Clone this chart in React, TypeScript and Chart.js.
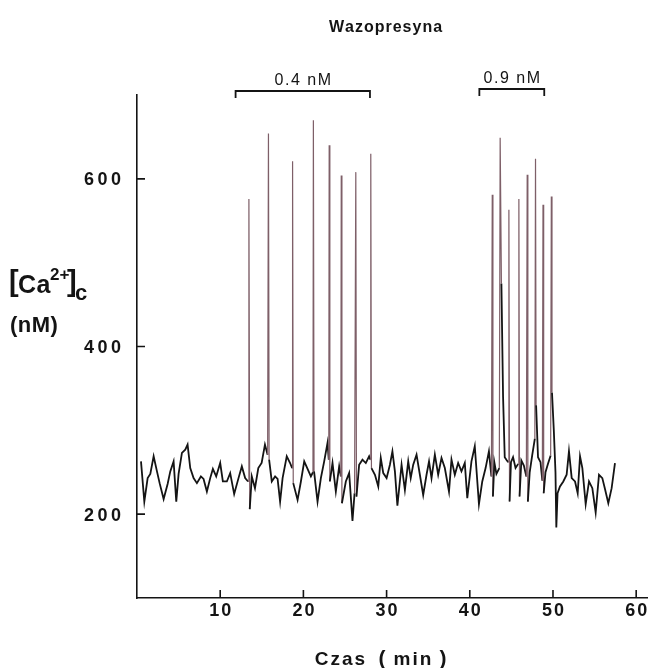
import React, { useEffect, useRef } from 'react';
import { Chart, registerables } from 'chart.js';

Chart.register(...registerables);

const chartTitle = 'Wazopresyna';
const xAxisTitle = ['Czas', '(', 'min', ')'];
const xTickValues = [10, 20, 30, 40, 50, 60];
const yTickValues = [200, 400, 600];
const doseLabels = ['0.4 nM', '0.9 nM'];
const doseStart = [11.85, 41.15];
const doseEnd = [28.0, 48.95];

// time (min)
const traceTime = [
  0.48, 0.88, 1.28, 1.6, 2.0, 2.4, 2.72, 3.2, 3.68, 4.0,
  4.4, 4.72, 5.0, 5.4, 5.8, 6.08, 6.4, 6.8, 7.2, 7.68,
  8.0, 8.4, 8.8, 9.12, 9.52, 10.0, 10.32, 10.8, 11.2, 11.68,
  12.2, 12.6, 13.0, 13.35, 13.45, 13.55, 13.8, 14.18, 14.58, 14.98,
  15.38, 15.7, 15.8, 15.88, 16.2, 16.6, 16.9, 17.2, 17.5, 18.0,
  18.4, 18.65, 18.7, 18.78, 19.3, 19.7, 20.1, 20.5, 20.9, 21.15,
  21.2, 21.28, 21.7, 22.1, 22.5, 22.9, 23.05, 23.1, 23.18, 23.5,
  23.9, 24.3, 24.5, 24.55, 24.63, 25.1, 25.5, 25.9, 26.15, 26.3,
  26.38, 26.7, 27.1, 27.5, 27.9, 28.05, 28.1, 28.18, 28.6, 29.0,
  29.3, 29.6, 30.0, 30.4, 30.7, 31.0, 31.3, 31.8, 32.2, 32.6,
  32.9, 33.2, 33.6, 34.0, 34.4, 34.8, 35.1, 35.4, 35.8, 36.2,
  36.6, 37.0, 37.5, 37.8, 38.2, 38.6, 39.0, 39.4, 39.7, 40.2,
  40.6, 41.1, 41.5, 41.9, 42.3, 42.6, 42.7, 42.78, 42.95, 43.2,
  43.55, 43.65, 43.8, 44.0, 44.2, 44.4, 44.62, 44.7, 44.78, 44.95,
  45.2, 45.5, 45.82, 45.9, 45.98, 46.2, 46.5, 46.8, 46.9, 46.98,
  47.2, 47.5, 47.82, 47.9, 47.97, 48.2, 48.5, 48.72, 48.8, 48.88,
  49.1, 49.4, 49.72, 49.8, 49.88, 50.1, 50.3, 50.4, 50.55, 50.84,
  51.24, 51.64, 51.92, 52.25, 52.65, 52.97, 53.25, 53.53, 53.93, 54.33,
  54.73, 55.13, 55.53, 55.93, 56.25, 56.65, 57.05, 57.45,
];

// [Ca2+]c (nM)
const traceCa = [
  263, 215, 243, 248, 269, 251, 237, 218, 236, 251,
  263, 215, 248, 273, 277, 283, 255, 243, 237, 245,
  242, 227, 243, 254, 245, 261, 239, 239, 249, 224,
  243, 257, 243, 239, 576, 206, 245, 231, 255, 261,
  283, 271, 654, 265, 239, 245, 242, 215, 243, 269,
  261, 255, 621, 237, 217, 239, 263, 254, 245, 250,
  670, 251, 215, 243, 263, 285, 265, 640, 239, 261,
  227, 257, 245, 604, 213, 239, 249, 192, 225, 608,
  221, 259, 265, 261, 269, 265, 630, 255, 247, 233,
  267, 249, 243, 259, 275, 251, 210, 259, 229, 263,
  243, 259, 271, 247, 223, 247, 263, 243, 271, 247,
  267, 255, 227, 265, 247, 261, 251, 261, 219, 263,
  281, 212, 239, 255, 275, 245, 581, 221, 262, 248,
  255, 649, 475, 340, 268, 265, 262, 563, 215, 262,
  268, 255, 260, 576, 221, 264, 258, 245, 605, 215,
  250, 270, 290, 624, 330, 268, 262, 240, 569, 225,
  250, 260, 270, 579, 345, 300, 250, 184, 225, 233,
  239, 247, 275, 243, 239, 225, 269, 255, 212, 239,
  231, 202, 247, 243, 230, 213, 231, 261,
];

const INK = '#141414';
const SPIKE = '#7e5f68';
const FONT = '"Liberation Sans", Arial, Helvetica, sans-serif';

function drawSpaced(
  ctx: CanvasRenderingContext2D,
  text: string,
  x: number,
  y: number,
  align: 'left' | 'center' | 'right',
  spacing: number
) {
  const chars = Array.from(text);
  const widths = chars.map((c) => ctx.measureText(c).width);
  const total = widths.reduce((a, b) => a + b, 0) + spacing * (chars.length - 1);
  let cx = align === 'left' ? x : align === 'center' ? x - total / 2 : x - total;
  ctx.textAlign = 'left';
  chars.forEach((c, i) => {
    ctx.fillText(c, cx, y);
    cx += widths[i] + spacing;
  });
}

const overlayPlugin = {
  id: 'overlay',
  afterDraw(chart: any) {
    const ctx: CanvasRenderingContext2D = chart.ctx;
    const xs = chart.scales.x;
    const ys = chart.scales.y;
    const area = chart.chartArea;
    ctx.save();
    ctx.fillStyle = INK;
    ctx.strokeStyle = INK;
    ctx.lineWidth = 1.6;
    ctx.textBaseline = 'alphabetic';

    // inward tick marks
    ctx.beginPath();
    yTickValues.forEach((v) => {
      const py = ys.getPixelForValue(v);
      ctx.moveTo(area.left, py);
      ctx.lineTo(area.left + 8, py);
    });
    xTickValues.forEach((v) => {
      const px = xs.getPixelForValue(v);
      ctx.moveTo(px, area.bottom);
      ctx.lineTo(px, area.bottom - 8);
    });
    ctx.stroke();

    // tick labels
    ctx.font = `bold 18px ${FONT}`;
    yTickValues.forEach((v) => {
      const py = ys.getPixelForValue(v);
      drawSpaced(ctx, String(v), area.left - 16, py + 6.5, 'right', 3.5);
    });
    xTickValues.forEach((v) => {
      const px = xs.getPixelForValue(v);
      drawSpaced(ctx, String(v), px, 616, 'center', 2);
    });

    // title
    ctx.font = `bold 16px ${FONT}`;
    drawSpaced(ctx, chartTitle, 385.5, 32, 'center', 1);

    // dose brackets
    const bracketY = [91, 89];
    const labelY = [85, 83];
    doseLabels.forEach((lab, i) => {
      const x0 = xs.getPixelForValue(doseStart[i]);
      const x1 = xs.getPixelForValue(doseEnd[i]);
      const by = bracketY[i];
      ctx.lineWidth = 1.8;
      ctx.beginPath();
      ctx.moveTo(x0, by + 7);
      ctx.lineTo(x0, by);
      ctx.lineTo(x1, by);
      ctx.lineTo(x1, by + 7);
      ctx.stroke();
      ctx.font = `16px ${FONT}`;
      drawSpaced(ctx, lab, (x0 + x1) / 2, labelY[i], 'center', 1.5);
    });

    // x axis title
    ctx.font = `bold 19px ${FONT}`;
    drawSpaced(ctx, xAxisTitle[0], 340, 665, 'center', 2);
    ctx.font = `bold 21px ${FONT}`;
    drawSpaced(ctx, xAxisTitle[1], 382, 665, 'center', 0);
    ctx.font = `bold 19px ${FONT}`;
    drawSpaced(ctx, xAxisTitle[2], 412.5, 665, 'center', 2);
    ctx.font = `bold 21px ${FONT}`;
    drawSpaced(ctx, xAxisTitle[3], 443, 665, 'center', 0);

    // y axis title  [Ca2+]c (nM)
    ctx.font = `bold 29px ${FONT}`;
    drawSpaced(ctx, '[', 9, 291, 'left', 0);
    ctx.font = `bold 25px ${FONT}`;
    drawSpaced(ctx, 'Ca', 18, 293, 'left', 0.5);
    ctx.font = `bold 17px ${FONT}`;
    drawSpaced(ctx, '2+', 50, 280, 'left', 0);
    ctx.font = `bold 29px ${FONT}`;
    drawSpaced(ctx, ']', 67, 291, 'left', 0);
    ctx.font = `bold 22px ${FONT}`;
    drawSpaced(ctx, 'c', 75, 300, 'left', 0);
    ctx.font = `bold 22px ${FONT}`;
    drawSpaced(ctx, '(nM)', 10, 332, 'left', 0.5);

    ctx.restore();
  },
};

export default function App() {
  const ref = useRef<HTMLCanvasElement>(null);

  useEffect(() => {
    const canvas = ref.current;
    if (!canvas) return;
    const points = traceTime.map((t, i) => ({ x: t, y: traceCa[i] }));
    const isSpike = (c: any) => Math.abs(c.p1.parsed.y - c.p0.parsed.y) > 150;
    const chart = new Chart(canvas, {
      type: 'line',
      data: {
        datasets: [
          {
            data: points,
            borderColor: INK,
            borderWidth: 1.8,
            pointRadius: 0,
            tension: 0,
            fill: false,
            segment: {
              borderColor: (c: any) => (isSpike(c) ? SPIKE : INK),
              borderWidth: (c: any) => (isSpike(c) ? 1.2 : 1.8),
            },
          } as any,
        ],
      },
      options: {
        animation: false,
        responsive: false,
        devicePixelRatio: 1,
        layout: { padding: { top: 95, right: 17, left: 0, bottom: 0 } },
        plugins: {
          legend: { display: false },
          tooltip: { enabled: false },
          title: { display: false },
        },
        scales: {
          x: {
            type: 'linear',
            min: 0,
            max: 61.3,
            afterFit: (s: any) => {
              s.height = 70;
            },
            afterBuildTicks: (s: any) => {
              s.ticks = xTickValues.map((v) => ({ value: v }));
            },
            ticks: { display: false },
            grid: { drawOnChartArea: false, drawTicks: false },
            border: { display: true, color: INK, width: 1.6 },
          },
          y: {
            type: 'linear',
            min: 100,
            max: 700,
            afterFit: (s: any) => {
              s.width = 137;
            },
            afterBuildTicks: (s: any) => {
              s.ticks = yTickValues.map((v) => ({ value: v }));
            },
            ticks: { display: false },
            grid: { drawOnChartArea: false, drawTicks: false },
            border: { display: true, color: INK, width: 1.6 },
          },
        },
      } as any,
      plugins: [overlayPlugin],
    });
    return () => chart.destroy();
  }, []);

  return (
    <div style={{ position: 'absolute', left: 0, top: 0, width: 664, height: 668, background: '#fff' }}>
      <canvas ref={ref} width={664} height={668} style={{ display: 'block', width: 664, height: 668 }} />
    </div>
  );
}
